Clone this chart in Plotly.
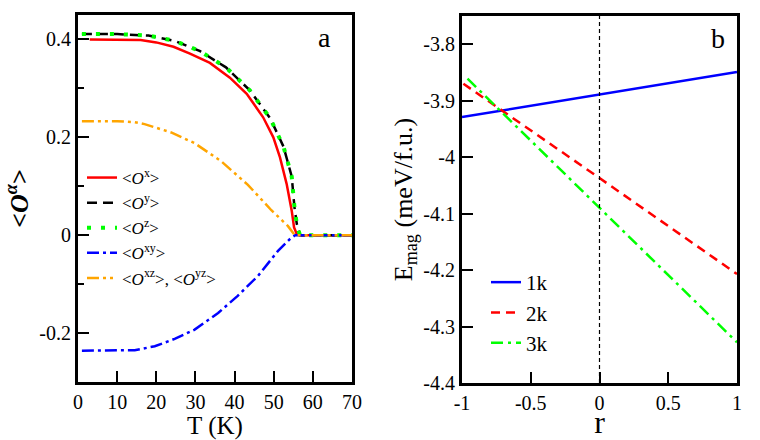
import plotly.graph_objects as go

# ---------------- Panel a data ----------------
T_x = [3, 10, 16, 20, 24.4, 28.6, 33.7, 38.8, 43.1, 47.3, 49.9, 51.6, 53.3, 54.6, 55.2, 55.9, 57, 60, 65, 70]
O_x = [0.400, 0.400, 0.399, 0.394, 0.385, 0.371, 0.352, 0.322, 0.289, 0.241, 0.200, 0.159, 0.105, 0.050, 0.016, 0.002, 0, 0, 0, 0]

T_yz = [1, 10, 18, 24.8, 31.2, 37.8, 43.9, 49.1, 52.5, 54.6, 55.3, 55.9, 56.7, 60, 65, 70]
O_y = [0.411, 0.411, 0.408, 0.397, 0.376, 0.343, 0.296, 0.239, 0.181, 0.120, 0.057, 0.023, 0, 0, 0, 0]
O_z = [0.411, 0.411, 0.408, 0.397, 0.376, 0.343, 0.296, 0.239, 0.181, 0.120, 0.057, 0.023, 0, 0, 0, 0]

T_xy = [1, 10, 14.5, 19.6, 24.7, 29.8, 35.8, 40.8, 46, 51.1, 54.5, 55.5, 60, 70]
O_xy = [-0.236, -0.236, -0.235, -0.227, -0.212, -0.193, -0.159, -0.124, -0.083, -0.032, -0.005, 0, 0, 0]

T_xz = [1, 10, 14.5, 17, 23.8, 29.8, 36.6, 43.4, 49.4, 53.6, 55.4, 60, 70]
O_xz = [0.233, 0.233, 0.231, 0.227, 0.210, 0.188, 0.151, 0.103, 0.051, 0.019, 0, 0, 0]

a_xticks = [0, 10, 20, 30, 40, 50, 60, 70]
a_xlabels = ["0", "10", "20", "30", "40", "50", "60", "70"]
a_yticks = [0.4, 0.2, 0, -0.2]
a_ylabels = ["0.4", "0.2", "0", "-0.2"]

# ---------------- Panel b data ----------------
r_1k = [-1, -0.5, 0, 0.5, 1]
E_1k = [-3.929, -3.909, -3.889, -3.869, -3.849]
r_2k = [-0.99, -0.5, 0, 0.5, 1]
E_2k = [-3.870, -3.952, -4.037, -4.122, -4.207]
r_3k = [-0.96, -0.5, 0, 0.5, 1]
E_3k = [-3.861, -3.971, -4.090, -4.209, -4.328]

b_xticks = [-1, -0.5, 0, 0.5, 1]
b_xlabels = ["-1", "-0.5", "0", "0.5", "1"]
b_yticks = [-3.8, -3.9, -4.0, -4.1, -4.2, -4.3, -4.4]
b_ylabels = ["-3.8", "-3.9", "-4", "-4.1", "-4.2", "-4.3", "-4.4"]

FONT = "Liberation Serif"
W, H = 760, 440

fig = go.Figure()

# panel a traces
fig.add_trace(go.Scatter(x=T_x, y=O_x, mode="lines", name="&lt;<i>O</i><sup>x</sup>&gt;",
                         line=dict(color="#ff0000", width=2.5), xaxis="x", yaxis="y", legend="legend"))
fig.add_trace(go.Scatter(x=T_yz, y=O_y, mode="lines", name="&lt;<i>O</i><sup>y</sup>&gt;",
                         line=dict(color="#000000", width=2.5, dash="10px,6px"), xaxis="x", yaxis="y", legend="legend"))
fig.add_trace(go.Scatter(x=T_yz, y=O_z, mode="lines", name="&lt;<i>O</i><sup>z</sup>&gt;",
                         line=dict(color="#00ff00", width=4, dash="4px,10px"), xaxis="x", yaxis="y", legend="legend"))
fig.add_trace(go.Scatter(x=T_xy, y=O_xy, mode="lines", name="&lt;<i>O</i><sup>xy</sup>&gt;",
                         line=dict(color="#0000ff", width=2.5, dash="12px,4px,3px,4px"), xaxis="x", yaxis="y", legend="legend"))
fig.add_trace(go.Scatter(x=T_xz, y=O_xz, mode="lines", name="&lt;<i>O</i><sup>xz</sup>&gt;, &lt;<i>O</i><sup>yz</sup>&gt;",
                         line=dict(color="#ffa500", width=2.5, dash="12px,4px,3px,4px,3px,4px"), xaxis="x", yaxis="y", legend="legend"))

# panel b traces
fig.add_trace(go.Scatter(x=r_1k, y=E_1k, mode="lines", name="1k",
                         line=dict(color="#0000ff", width=2.5), xaxis="x2", yaxis="y2", legend="legend2"))
fig.add_trace(go.Scatter(x=r_2k, y=E_2k, mode="lines", name="2k",
                         line=dict(color="#ff0000", width=2.5, dash="9px,6px"), xaxis="x2", yaxis="y2", legend="legend2"))
fig.add_trace(go.Scatter(x=r_3k, y=E_3k, mode="lines", name="3k",
                         line=dict(color="#00ff00", width=2.5, dash="12px,5px,3px,5px"), xaxis="x2", yaxis="y2", legend="legend2"))

axis_common = dict(showline=True, linecolor="black", linewidth=3, mirror=True,
                   ticks="inside", ticklen=11, tickwidth=2, tickcolor="black",
                   showgrid=False, zeroline=False, automargin=False,
                   tickfont=dict(family=FONT, size=20, color="black"))

fig.update_layout(
    width=W, height=H,
    margin=dict(l=0, r=0, t=0, b=0),
    paper_bgcolor="white", plot_bgcolor="white",
    font=dict(family=FONT, color="black"),
    xaxis=dict(domain=[78 / W, 352 / W], range=[0, 70], tickvals=a_xticks, ticktext=a_xlabels,
               title=dict(text="T (K)", font=dict(family=FONT, size=25), standoff=0), anchor="y", **axis_common),
    yaxis=dict(domain=[1 - 382 / H, 1 - 15 / H], range=[-0.3, 0.45], tickvals=a_yticks, ticktext=a_ylabels,
               minor=dict(tickvals=[0.3, 0.1, -0.1], ticks="inside", ticklen=6, tickwidth=2, tickcolor="black"),
               title=dict(text="<b>&lt;<i>O</i><sup><i>α</i></sup>&gt;</b>", font=dict(family=FONT, size=26), standoff=4),
               anchor="x", **axis_common),
    xaxis2=dict(domain=[462 / W, 737 / W], range=[-1, 1], tickvals=b_xticks, ticktext=b_xlabels,
                title=dict(text="r", font=dict(family=FONT, size=32), standoff=0), anchor="y2", **axis_common),
    yaxis2=dict(domain=[1 - 383 / H, 1 - 16 / H], range=[-4.4, -3.75], tickvals=b_yticks, ticktext=b_ylabels,
                title=dict(text="E<sub>mag</sub> (meV/f.u.)", font=dict(family=FONT, size=26), standoff=4),
                anchor="x2", **axis_common),
    legend=dict(x=82 / W, y=1 - 160 / H, xanchor="left", yanchor="top", bgcolor="rgba(0,0,0,0)",
                font=dict(family=FONT, size=17, color="black"), tracegroupgap=0),
    legend2=dict(x=486 / W, y=1 - 262 / H, xanchor="left", yanchor="top", bgcolor="rgba(0,0,0,0)",
                 font=dict(family=FONT, size=21, color="black")),
    showlegend=True,
    shapes=[dict(type="line", xref="x2", yref="y2 domain", x0=0, x1=0, y0=0, y1=1,
                 line=dict(color="black", width=1.2, dash="4px,3px"))],
    annotations=[
        dict(text="a", xref="x", yref="y", x=63, y=0.405, showarrow=False,
             font=dict(family=FONT, size=28, color="black")),
        dict(text="b", xref="x2", yref="y2", x=0.86, y=-3.79, showarrow=False,
             font=dict(family=FONT, size=28, color="black")),
    ],
)

post = """
document.body.style.margin='0px';
document.body.style.overflow='hidden';
var gd = document.getElementById('{plot_id}');
function fixFonts(){
  gd.querySelectorAll('svg text').forEach(function(t){ t.style.fontFamily = "'Liberation Serif', serif"; });
}
fixFonts();
gd.on('plotly_afterplot', fixFonts);
"""
fig.write_html("out.html", config={"displayModeBar": False}, post_script=post)
